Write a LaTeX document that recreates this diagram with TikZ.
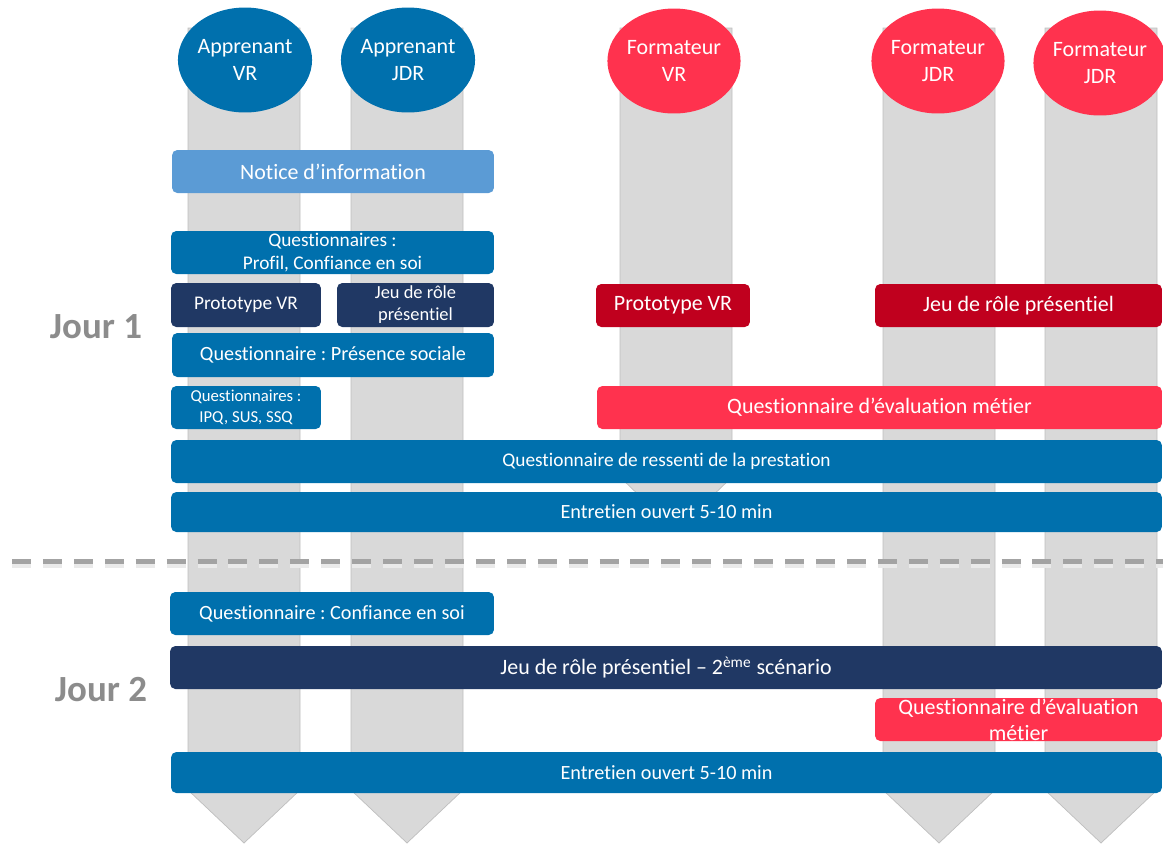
\documentclass[tikz,border=0pt]{standalone}
\usepackage{fontspec}
\setmainfont{Carlito}[Ligatures=NoCommon]
\frenchspacing
\usetikzlibrary{positioning,shapes.geometric}
\definecolor{cBlue}{HTML}{0070AD}
\definecolor{cLight}{HTML}{5B9BD5}
\definecolor{cNavy}{HTML}{203864}
\definecolor{cRed}{HTML}{FF324E}
\definecolor{cCrimson}{HTML}{C0001E}
\definecolor{cLane}{HTML}{D9D9D9}
\definecolor{cEdge}{HTML}{BFBFBF}
\definecolor{cDay}{HTML}{8C8C8C}
\tikzset{
  lane/.style={fill=cLane,draw=cEdge,line width=.4pt},
  actor/.style={ellipse,inner sep=0pt,minimum width=2.64cm,minimum height=2.1cm,
                text=white,align=center,font=\fontsize{12.5}{15.4}\selectfont},
  bar/.style={rounded corners=3pt,inner sep=0pt,text=white,align=center,
              minimum height=.86cm},
  fbig/.style={font=\fontsize{12.5}{14.8}\selectfont},
  fmid/.style={font=\fontsize{11.5}{13.6}\selectfont},
  fsmall/.style={font=\fontsize{11}{13.2}\selectfont},
  ftiny/.style={font=\fontsize{9.5}{11.8}\selectfont},
  day/.style={text=cDay,font=\fontsize{21}{25}\selectfont\bfseries},
  dayline/.style={cDay!80,line width=2.85pt,dash pattern=on 10.8pt off 6.8pt},
}

\begin{document}
\begin{tikzpicture}[x=0.02cm,y=-0.02cm]
  \useasboundingbox (0,0) rectangle (1163,843);
  % lanes, one per role
  \foreach \x in {244,407,939,1101}{
    \filldraw[lane] (\x-56,28) -- (\x+56,28) -- (\x+56,790) -- (\x,843)
      -- (\x-56,790) -- cycle;
  }
  \filldraw[lane] (620,28) -- (732,28) -- (732,477) -- (676,531) -- (620,477) -- cycle;

  \node[actor,fill=cBlue] (appVR)   at (245,60)  {Apprenant\\VR};
  \node[actor,fill=cBlue] (appJDR)  at (408,60)  {Apprenant\\JDR};
  \node[actor,fill=cRed]  (forVR)   at (674,61)  {Formateur\\VR};
  \node[actor,fill=cRed]  (forJDR)  at (938,61)  {Formateur\\JDR};
  \node[actor,fill=cRed]  (forJDRb) at (1100,63) {Formateur\\JDR};

  % day 1
  \node[day] (jour1) at (96,327) {Jour 1};
  \node[bar,fbig,fill=cLight,minimum width=6.44cm] (notice) at (333,171.5)
    {Notice d’information};
  \node[bar,fsmall,fill=cBlue,minimum width=6.46cm] (profil) at (332.5,252.5)
    {Questionnaires :\\Profil, Confiance en soi};
  \node[bar,fsmall,fill=cNavy,minimum width=3cm,minimum height=.88cm] (protoA) at (246,305)
    {Prototype VR};
  \node[bar,fill=cNavy,minimum width=3.14cm,minimum height=.88cm,
        font=\fontsize{10.5}{12.5}\selectfont] (jeuA) at (415.5,305)
    {Jeu de rôle\\présentiel};
  \node[bar,fmid,fill=cBlue,minimum width=6.44cm,minimum height=.88cm] (presence) at (333,355)
    {Questionnaire : Présence sociale};
  \node[bar,ftiny,fill=cBlue,minimum width=3cm] (ipq) at (246,407.5)
    {Questionnaires :\\IPQ, SUS, SSQ};
  \node[bar,fbig,fill=cCrimson,minimum width=3.08cm] (protoF) at (673,305.5)
    {Prototype VR};
  \node[bar,fbig,fill=cCrimson,minimum width=5.74cm] (jeuF) at (1018.5,305.5)
    {Jeu de rôle présentiel};
  \node[bar,fbig,fill=cRed,minimum width=11.3cm] (evalF) at (879.5,407.5)
    {Questionnaire d’évaluation métier};
  \node[bar,fsmall,fill=cBlue,minimum width=19.82cm] (ressenti) at (666.5,461.5)
    {Questionnaire de ressenti de la prestation};
  \node[bar,fmid,fill=cBlue,minimum width=19.82cm,minimum height=.8cm] (entretienA) at (666.5,512)
    {Entretien ouvert 5-10 min};

  % separation
  \coordinate (sepL) at (12,561);
  \coordinate (sepR) at (1163,561);
  \draw[dayline,cDay!18,line width=4.5pt] ([yshift=-2pt]sepL) -- ([yshift=-2pt]sepR);
  \draw[dayline] (sepL) -- (sepR);

  % day 2
  \node[day] (jour2) at (101,690) {Jour 2};
  \node[bar,fmid,fill=cBlue,minimum width=6.48cm] (confiance) at (332,613.5)
    {Questionnaire : Confiance en soi};
  \node[bar,fbig,fill=cNavy,minimum width=19.84cm] (scenario) at (666,667.5)
    {Jeu de rôle présentiel – 2\textsuperscript{ème} scénario};
  \node[bar,fbig,fill=cRed,minimum width=5.74cm] (evalJ) at (1018.5,719.5)
    {Questionnaire d’évaluation\\métier};
  \node[bar,fmid,fill=cBlue,minimum width=19.82cm,minimum height=.82cm] (entretienB) at (666.5,772.5)
    {Entretien ouvert 5-10 min};
\end{tikzpicture}
\end{document}
